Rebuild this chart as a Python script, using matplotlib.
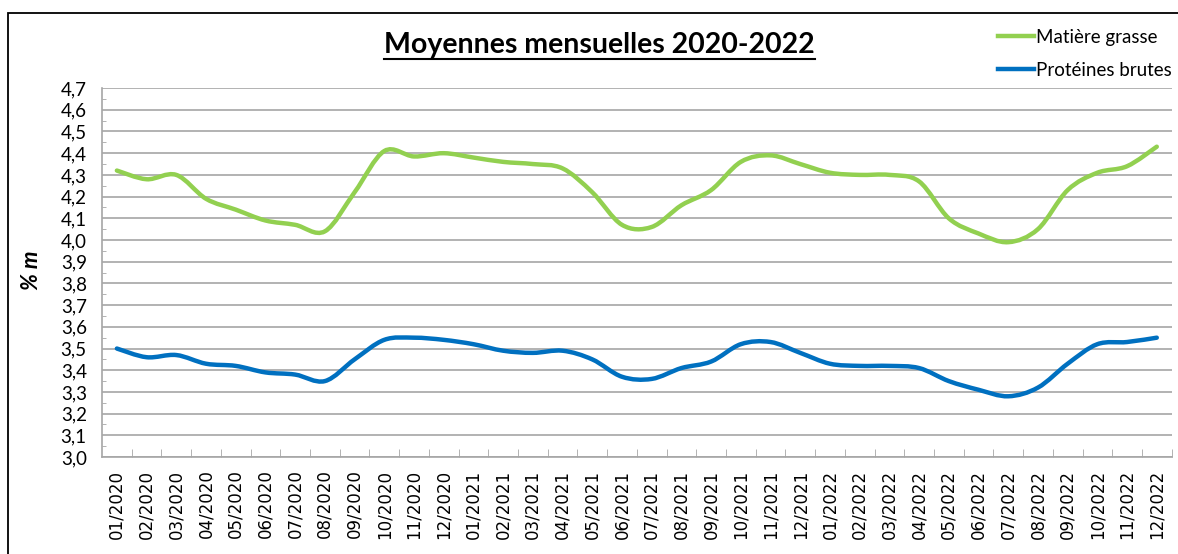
import numpy as np
import matplotlib
matplotlib.use("Agg")
import matplotlib.pyplot as plt
from matplotlib.path import Path
from matplotlib.patches import PathPatch, Rectangle
from matplotlib.lines import Line2D
from matplotlib.ticker import MultipleLocator, FuncFormatter

mois = [f"{m:02d}/{a}" for a in (2020, 2021, 2022) for m in range(1, 13)]

matiere_grasse = [4.32, 4.28, 4.30, 4.19, 4.14, 4.09, 4.07, 4.04, 4.22, 4.41, 4.385, 4.40,
                  4.38, 4.36, 4.35, 4.33, 4.22, 4.07, 4.06, 4.16, 4.23, 4.36, 4.39, 4.35,
                  4.31, 4.30, 4.30, 4.27, 4.10, 4.03, 3.99, 4.05, 4.23, 4.31, 4.34, 4.43]
proteines = [3.50, 3.46, 3.47, 3.43, 3.42, 3.39, 3.38, 3.35, 3.45, 3.54, 3.55, 3.54,
             3.52, 3.49, 3.48, 3.49, 3.45, 3.37, 3.36, 3.41, 3.44, 3.52, 3.53, 3.48,
             3.43, 3.42, 3.42, 3.41, 3.35, 3.31, 3.28, 3.32, 3.43, 3.52, 3.53, 3.55]

VERT = "#92D050"
BLEU = "#0070C0"
GRIS = "#A6A6A6"


def courbe_lissee(x, y):
    # courbe lissée façon Excel (Catmull-Rom -> Bézier)
    pts = np.column_stack([x, y]).astype(float)
    n = len(pts)
    verts = [pts[0]]
    codes = [Path.MOVETO]
    for i in range(n - 1):
        p0 = pts[i - 1] if i > 0 else pts[i]
        p1 = pts[i]
        p2 = pts[i + 1]
        p3 = pts[i + 2] if i + 2 < n else pts[i + 1]
        c1 = p1 + (p2 - p0) / 6
        c2 = p2 - (p3 - p1) / 6
        verts += [c1, c2, p2]
        codes += [Path.CURVE4] * 3
    return Path(verts, codes)


fig = plt.figure(figsize=(11.78, 5.54), dpi=100)
ax = fig.add_axes([0.0866, 0.175, 0.908, 0.666])

x = np.arange(len(mois))
for serie, couleur in [(matiere_grasse, VERT), (proteines, BLEU)]:
    ax.add_patch(PathPatch(courbe_lissee(x, serie), fill=False, edgecolor=couleur,
                           lw=3.2, capstyle="round", zorder=3))

ax.set_xlim(-0.5, len(mois) - 0.5)
ax.set_ylim(3.0, 4.7)
ax.yaxis.set_major_locator(MultipleLocator(0.1))
ax.yaxis.set_minor_locator(MultipleLocator(0.05))
ax.yaxis.set_major_formatter(FuncFormatter(lambda v, p: f"{v:.1f}".replace(".", ",")))
ax.grid(axis="y", color=GRIS, lw=1.2)
ax.set_axisbelow(True)

ax.set_xticks(x)
ax.set_xticklabels(mois, rotation=90, fontsize=12, family="DejaVu Sans")
ax.set_xticks(np.arange(len(mois)) + 0.5, minor=True)
ax.tick_params(axis="x", which="major", length=0, pad=9)
ax.tick_params(axis="x", which="minor", direction="in", length=6, color=GRIS)
ax.tick_params(axis="y", which="major", length=0, pad=11, labelsize=13.5)
ax.tick_params(axis="y", which="minor", direction="in", length=3, color=GRIS)
for lab in ax.get_yticklabels():
    lab.set_family("Lato")

for s in ["top", "right"]:
    ax.spines[s].set_visible(False)
for s in ["left", "bottom"]:
    ax.spines[s].set_color(GRIS)
    ax.spines[s].set_linewidth(1.2)

fig.text(0.027, 0.513, "% m", rotation=90, ha="center", va="center",
         fontsize=16, fontweight="bold", fontstyle="italic", family="Lato")

titre = fig.text(0.509, 0.918, "Moyennes mensuelles 2020-2022", ha="center", va="center",
                 fontsize=20.5, fontweight="bold", family="Lato")

handles = [Line2D([], [], color=VERT, lw=3.2), Line2D([], [], color=BLEU, lw=3.2)]
fig.legend(handles, ["Matière grasse", "Protéines brutes"], loc="upper left",
           bbox_to_anchor=(998 / 1178, 1 - 29 / 554), frameon=False,
           prop={"family": "Lato", "size": 13.5}, handlelength=1.9,
           handletextpad=0.12, labelspacing=0.85, borderpad=0, borderaxespad=0)

# cadre du graphique
fig.patches.append(Rectangle((8 / 1178, -0.2), 1.5, 0.2 + 1 - 13 / 554, fill=False,
                             edgecolor="black", lw=1.3, transform=fig.transFigure))

# soulignement du titre
fig.canvas.draw()
bb = titre.get_window_extent(fig.canvas.get_renderer())
inv = fig.transFigure.inverted()
(x0, y0), (x1, _) = inv.transform([(bb.x0, bb.y0 - 1), (bb.x1, bb.y0)])
fig.add_artist(Line2D([x0, x1], [y0, y0], color="black", lw=1.5, transform=fig.transFigure))

fig.savefig("out.png", dpi=100)
